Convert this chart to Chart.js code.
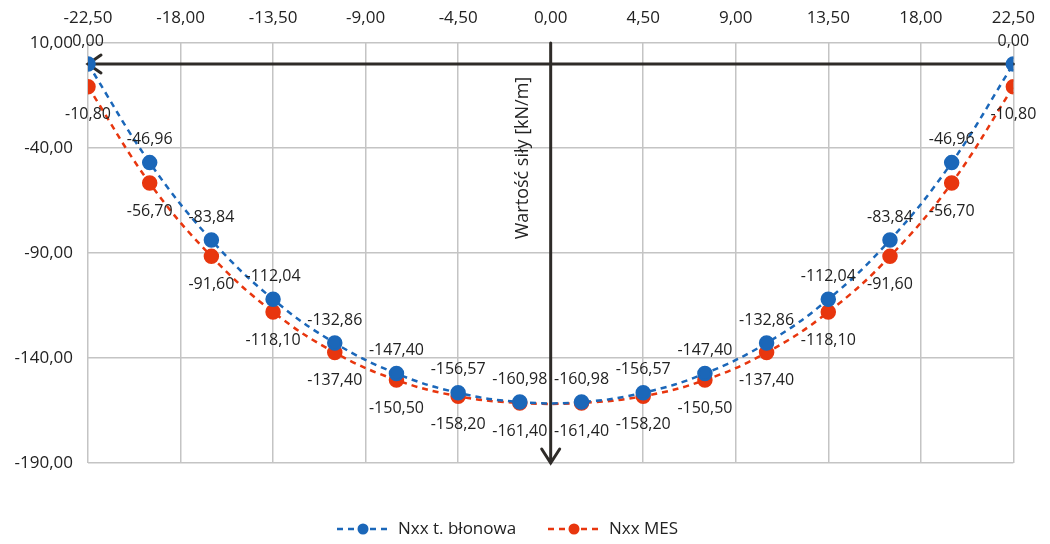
<!DOCTYPE html>
<html>
<head>
<meta charset="utf-8">
<script src="https://cdn.jsdelivr.net/npm/chart.js@4/dist/chart.umd.min.js"></script>
<style>
  html, body { margin: 0; padding: 0; background: #fff; }
  #wrap { width: 1050px; height: 544px; }
</style>
</head>
<body>
<div id="wrap"><canvas id="chart" width="1050" height="544"></canvas></div>
<script>
const positions = [-22.5, -19.5, -16.5, -13.5, -10.5, -7.5, -4.5, -1.5, 1.5, 4.5, 7.5, 10.5, 13.5, 16.5, 19.5, 22.5];
const membrane = [0, -46.96, -83.84, -112.04, -132.86, -147.4, -156.57, -160.98, -160.98, -156.57, -147.4, -132.86, -112.04, -83.84, -46.96, 0];
const fem = [-10.8, -56.7, -91.6, -118.1, -137.4, -150.5, -158.2, -161.4, -161.4, -158.2, -150.5, -137.4, -118.1, -91.6, -56.7, -10.8];
const xTicks = [-22.5, -18, -13.5, -9, -4.5, 0, 4.5, 9, 13.5, 18, 22.5];
const yTicks = [10, -40, -90, -140, -190];
const seriesNames = ["Nxx t. błonowa", "Nxx MES"];
const axisTitle = "Wartość siły [kN/m]";

const BLUE = "#1b67b9";
const RED = "#e8360e";
const FONT = "'Open Sans', sans-serif";
const fmt = (v) => Number(v).toFixed(2).replace(".", ",");

const toPoints = (ys) => positions.map((x, i) => ({ x, y: ys[i] }));

const makeDataset = (label, ys, color, labelOffset) => ({
  label,
  data: toPoints(ys),
  borderColor: color,
  backgroundColor: color,
  borderWidth: 2.5,
  borderDash: [6, 5],
  showLine: true,
  tension: 0.4,
  pointRadius: 6.5,
  pointHoverRadius: 6.5,
  labelOffset,
});

// arrows for the axes through zero
const axesArrows = {
  id: "axesArrows",
  beforeDatasetsDraw(chart) {
    const { ctx, chartArea, scales } = chart;
    const x0 = scales.x.getPixelForValue(0);
    const y0 = scales.y.getPixelForValue(0);
    const xl = scales.x.getPixelForValue(-22.5);
    const xr = scales.x.getPixelForValue(22.5);
    ctx.save();
    ctx.strokeStyle = "#2e2b28";
    ctx.lineWidth = 3;
    ctx.lineCap = "round";
    ctx.beginPath();
    ctx.moveTo(xr, y0);
    ctx.lineTo(xl, y0);
    ctx.moveTo(xl + 13, y0 - 9);
    ctx.lineTo(xl, y0);
    ctx.lineTo(xl + 13, y0 + 9);
    ctx.moveTo(x0, chartArea.top);
    ctx.lineTo(x0, chartArea.bottom);
    ctx.moveTo(x0 - 9, chartArea.bottom - 14);
    ctx.lineTo(x0, chartArea.bottom);
    ctx.lineTo(x0 + 9, chartArea.bottom - 14);
    ctx.stroke();

    ctx.fillStyle = "#222";
    ctx.font = "18px " + FONT;
    ctx.textAlign = "center";
    ctx.textBaseline = "middle";
    ctx.translate(x0 - 28, chartArea.top + 115);
    ctx.rotate(-Math.PI / 2);
    ctx.fillText(axisTitle, 0, 0);
    ctx.restore();
  },
};

// value labels and bottom legend
const valueLabels = {
  id: "valueLabels",
  afterDatasetsDraw(chart) {
    const { ctx } = chart;
    ctx.save();
    ctx.font = "16px " + FONT;
    ctx.fillStyle = "#222";
    ctx.textAlign = "center";
    ctx.textBaseline = "middle";
    chart.data.datasets.forEach((ds, i) => {
      chart.getDatasetMeta(i).data.forEach((pt, j) => {
        ctx.fillText(fmt(ds.data[j].y), pt.x, pt.y + ds.labelOffset);
      });
    });
    ctx.restore();
  },
  afterDraw(chart) {
    const { ctx } = chart;
    const items = [
      { x: 337, ds: chart.data.datasets[0] },
      { x: 548, ds: chart.data.datasets[1] },
    ];
    const y = 529;
    ctx.save();
    items.forEach(({ x, ds }) => {
      ctx.strokeStyle = ds.borderColor;
      ctx.lineWidth = 2.5;
      ctx.setLineDash([6, 5]);
      ctx.beginPath();
      ctx.moveTo(x, y);
      ctx.lineTo(x + 50, y);
      ctx.stroke();
      ctx.setLineDash([]);
      ctx.fillStyle = ds.backgroundColor;
      ctx.beginPath();
      ctx.arc(x + 26, y, 5.5, 0, Math.PI * 2);
      ctx.fill();
      ctx.fillStyle = "#222";
      ctx.font = "17px " + FONT;
      ctx.textAlign = "left";
      ctx.textBaseline = "middle";
      ctx.fillText(ds.label, x + 61, y);
    });
    ctx.restore();
  },
};

const gridColor = "#c4c4c4";

new Chart(document.getElementById("chart"), {
  type: "scatter",
  data: {
    datasets: [
      makeDataset(seriesNames[0], membrane, BLUE, -23),
      makeDataset(seriesNames[1], fem, RED, 28),
    ],
  },
  options: {
    responsive: false,
    animation: false,
    devicePixelRatio: 1,
    layout: { padding: { left: 0, right: 35, top: 0, bottom: 81 } },
    plugins: { legend: { display: false }, tooltip: { enabled: false } },
    scales: {
      x: {
        type: "linear",
        position: "top",
        min: -22.5,
        max: 22.5,
        afterBuildTicks: (axis) => { axis.ticks = xTicks.map((value) => ({ value })); },
        afterFit: (axis) => { axis.height = 43; },
        grid: { color: gridColor, lineWidth: 1.5, drawTicks: false },
        border: { display: false },
        ticks: {
          padding: 15,
          color: "#222",
          font: { family: "'Open Sans'", size: 17 },
          maxRotation: 0,
          callback: (v) => fmt(v),
        },
      },
      y: {
        type: "linear",
        min: -190,
        max: 10,
        afterBuildTicks: (axis) => { axis.ticks = yTicks.map((value) => ({ value })); },
        afterFit: (axis) => { axis.width = 88; },
        grid: { color: gridColor, lineWidth: 1.5, drawTicks: false },
        border: { display: false },
        ticks: {
          padding: 15,
          color: "#222",
          font: { family: "'Open Sans'", size: 17 },
          callback: (v) => fmt(v),
        },
      },
    },
  },
  plugins: [axesArrows, valueLabels],
});
</script>
</body>
</html>
